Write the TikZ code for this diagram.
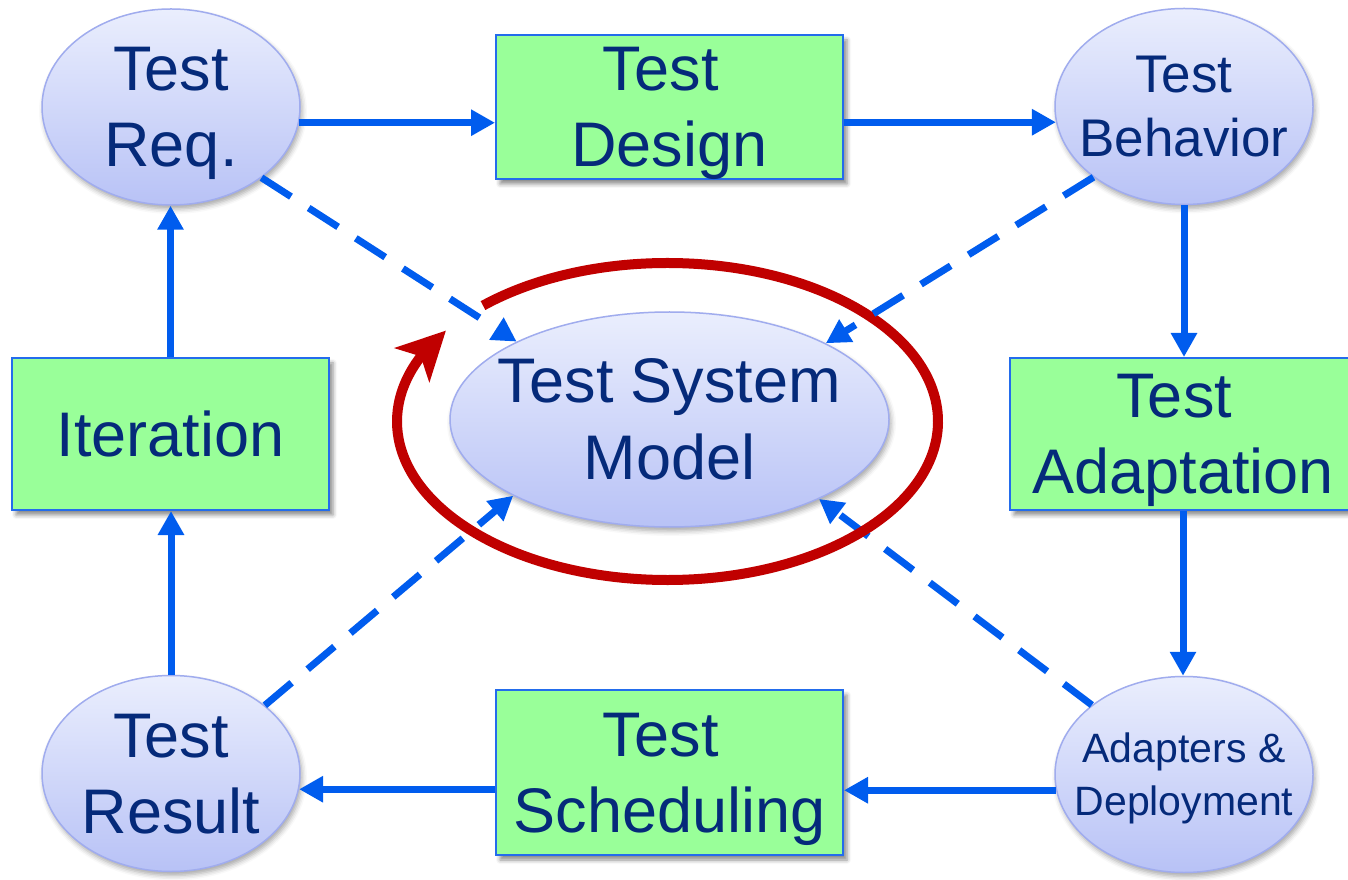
\documentclass[tikz,border=0pt]{standalone}
\usepackage{fontspec}
\setmainfont{Liberation Sans}
\usetikzlibrary{arrows.meta,bending,shapes.geometric,shadows.blur}

\definecolor{navy}{RGB}{5,42,122}
\definecolor{flowblue}{RGB}{0,92,238}
\definecolor{boxgreen}{RGB}{153,255,153}
\definecolor{boxedge}{RGB}{35,108,236}
\definecolor{ovaltop}{RGB}{234,238,253}
\definecolor{ovalbottom}{RGB}{184,194,246}
\definecolor{ovaledge}{RGB}{160,172,238}
\definecolor{loopred}{RGB}{192,0,0}

\tikzset{
  stagebox/.style={rectangle, draw=boxedge, line width=2pt, fill=boxgreen,
    text=navy, align=center, inner sep=0pt, text depth=0pt,
    font=\fontsize{63}{76}\selectfont,
    blur shadow={shadow xshift=4pt, shadow yshift=-5pt,
      shadow blur radius=4pt, shadow opacity=45}},
  oval/.style={ellipse, draw=ovaledge, line width=1.5pt,
    top color=ovaltop, bottom color=ovalbottom, inner sep=0pt,
    minimum width=258pt, minimum height=196pt,
    blur shadow={shadow xshift=2pt, shadow yshift=-4pt,
      shadow blur radius=5pt, shadow opacity=35}},
  ovaltext/.style={text=navy, align=center, inner sep=0pt, text depth=0pt},
  flow/.style={draw=flowblue, line width=7pt,
    -{Triangle[length=24pt,width=25pt]}},
  link/.style={flow, line cap=butt, dash pattern=on 35pt off 21pt},
  loopline/.style={draw=loopred, line width=10pt,
    -{Stealth[length=48pt,width=48pt,inset=12pt]}},
}

\begin{document}
\begin{tikzpicture}[x=1pt,y=1pt]
\useasboundingbox (0,0) rectangle (1348,879);

% outer ring of stages
\node[oval] (req) at (171,772) {};
\node[ovaltext, font=\fontsize{63}{76}\selectfont] (reqtxt) at (req) {Test\\Req.};

\node[stagebox, minimum width=347pt, minimum height=144pt] (design) at (669.5,772)
  {Test\kern.28em\\Design};

\node[oval] (behav) at (1184,772.5) {};
\node[ovaltext, font=\fontsize{53}{64}\selectfont] (behavtxt) at (behav) {Test\\Behavior};

\node[stagebox, minimum width=317pt, minimum height=152pt] (iter) at (170.5,445)
  {Iteration};

\node[stagebox, minimum width=346pt, minimum height=152pt] (adapt) at (1183,445)
  {Test\kern.28em\\Adaptation};

\node[oval] (result) at (171,105.5) {};
\node[ovaltext, font=\fontsize{63}{76}\selectfont] (resulttxt) at (result) {Test\\Result};

\node[stagebox, minimum width=347pt, minimum height=165pt] (sched) at (669.5,106.5)
  {Test\kern.28em\\Scheduling};

\node[oval] (adapters) at (1184,104.5) {};
\node[ovaltext, font=\fontsize{41}{53}\selectfont] (adapterstxt) at (adapters)
  {Adapters \&\\Deployment};

% central model
\node[oval, minimum width=439pt, minimum height=215pt] (model) at (669.5,459.5) {};
\node[ovaltext, font=\fontsize{63}{77}\selectfont] (modeltxt) at (model) {Test System\\Model};

% process flow
\draw[flow] (req.-7.2) -- (req.-7.2 -| design.west);
\draw[flow] (design.east |- behav.187.3) -- (behav.187.3);
\draw[flow] (behav.south) -- (behav.south |- adapt.north);
\draw[flow] (adapt.south) -- (adapt.south |- adapters.north);
\draw[flow] (adapters.187) -- (adapters.187 -| sched.east);
\draw[flow] (sched.west |- result.-7.3) -- (result.-7.3);
\draw[flow] (result.north) -- (result.north |- iter.south);
\draw[flow] (iter.north) -- (iter.north |- req.south);

% links into the model
\draw[link] (req.-38) -- (model.153);
\draw[link] (result.36.6) -- (model.206.6);
\draw[link] (adapters.143) -- (model.-28.6);

% iteration loop around the model
\coordinate (loopc) at (667.5,457.5);
\draw[loopline] (loopc) ++(133:270.5 and 158.5)
  arc[start angle=133, end angle=-215, x radius=270.5, y radius=158.5];

\draw[link] (behav.218) -- (model.26);
\end{tikzpicture}
\end{document}
